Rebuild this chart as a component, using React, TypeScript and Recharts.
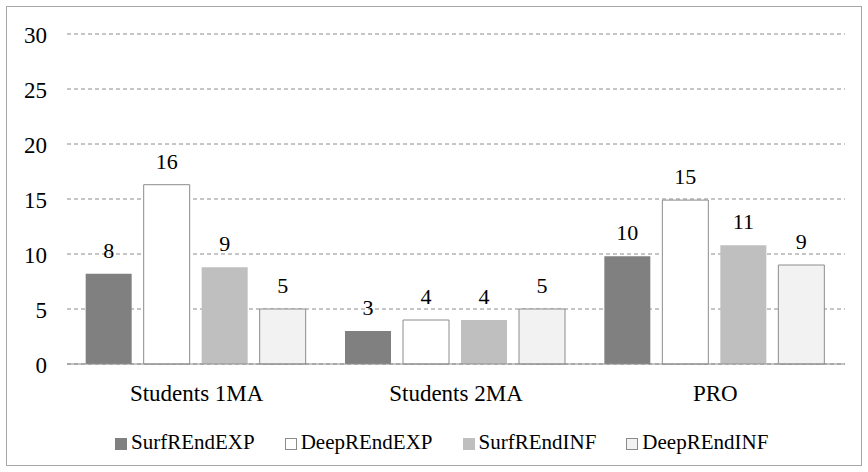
import { BarChart, Bar, XAxis, YAxis, CartesianGrid, Legend, LabelList } from "recharts";

const groups = ["Students 1MA", "Students 2MA", "PRO"];
const surfExp = [8.2, 3.0, 9.8];
const deepExp = [16.3, 4.0, 14.9];
const surfInf = [8.8, 4.0, 10.8];
const deepInf = [5.0, 5.0, 9.0];
const yTicks = [0, 5, 10, 15, 20, 25, 30];

const series = [
  { key: "SurfREndEXP", fill: "#808080", stroke: "none" },
  { key: "DeepREndEXP", fill: "#ffffff", stroke: "#8c8c8c" },
  { key: "SurfREndINF", fill: "#bfbfbf", stroke: "none" },
  { key: "DeepREndINF", fill: "#f2f2f2", stroke: "#8c8c8c" },
];

const data = groups.map((g, i) => ({
  group: g,
  SurfREndEXP: surfExp[i],
  DeepREndEXP: deepExp[i],
  SurfREndINF: surfInf[i],
  DeepREndINF: deepInf[i],
}));

const font = "'Liberation Serif', 'Times New Roman', serif";

function LegendBox() {
  return (
    <div
      style={{
        height: 40,
        paddingTop: 16,
        paddingLeft: 115,
        boxSizing: "border-box",
        display: "flex",
        fontFamily: font,
        fontSize: 21,
        lineHeight: "22px",
        color: "#000",
      }}
    >
      {series.map((s) => (
        <div key={s.key} style={{ display: "flex", alignItems: "center", marginRight: 30 }}>
          <span
            style={{
              width: 12,
              height: 12,
              boxSizing: "border-box",
              background: s.fill,
              border: s.stroke === "none" ? "none" : `1px solid ${s.stroke}`,
              marginRight: 4,
              marginTop: 4,
            }}
          />
          <span>{s.key}</span>
        </div>
      ))}
    </div>
  );
}

export default function App() {
  return (
    <div style={{ position: "absolute", left: 0, top: 0, width: 868, height: 472, background: "#fff" }}>
      <div
        style={{
          position: "absolute",
          left: 6,
          top: 6,
          width: 856,
          height: 460,
          border: "1px solid #a6a6a6",
          boxSizing: "border-box",
        }}
      />
      <div style={{ position: "absolute", left: 0, top: 0 }}>
        <BarChart
          width={868}
          height={472}
          data={data}
          margin={{ top: 34, right: 23, left: 0, bottom: 18 }}
          barCategoryGap="7.2%"
          barGap={12}
        >
          <CartesianGrid vertical={false} stroke="#8c8c8c" strokeDasharray="4 3" />
          <XAxis
            dataKey="group"
            height={50}
            interval={0}
            tickLine={false}
            tickSize={0}
            tickMargin={21}
            axisLine={{ stroke: "#8c8c8c" }}
            tick={{ fontSize: 23, fill: "#000", fontFamily: font }}
          />
          <YAxis
            domain={[0, 30]}
            ticks={yTicks}
            width={67}
            axisLine={false}
            tickLine={false}
            tickSize={0}
            tickMargin={20}
            tick={{ fontSize: 23, fill: "#000", fontFamily: font, dy: 1 }}
          />
          <Legend verticalAlign="bottom" content={() => <LegendBox />} wrapperStyle={{ left: 0, width: 868 }} />
          {series.map((s) => (
            <Bar key={s.key} dataKey={s.key} fill={s.fill} stroke={s.stroke} isAnimationActive={false}>
              <LabelList
                dataKey={s.key}
                position="top"
                offset={16}
                formatter={(v: number) => Math.round(v)}
                style={{ fontSize: 22, fill: "#000", fontFamily: font }}
              />
            </Bar>
          ))}
        </BarChart>
      </div>
    </div>
  );
}
